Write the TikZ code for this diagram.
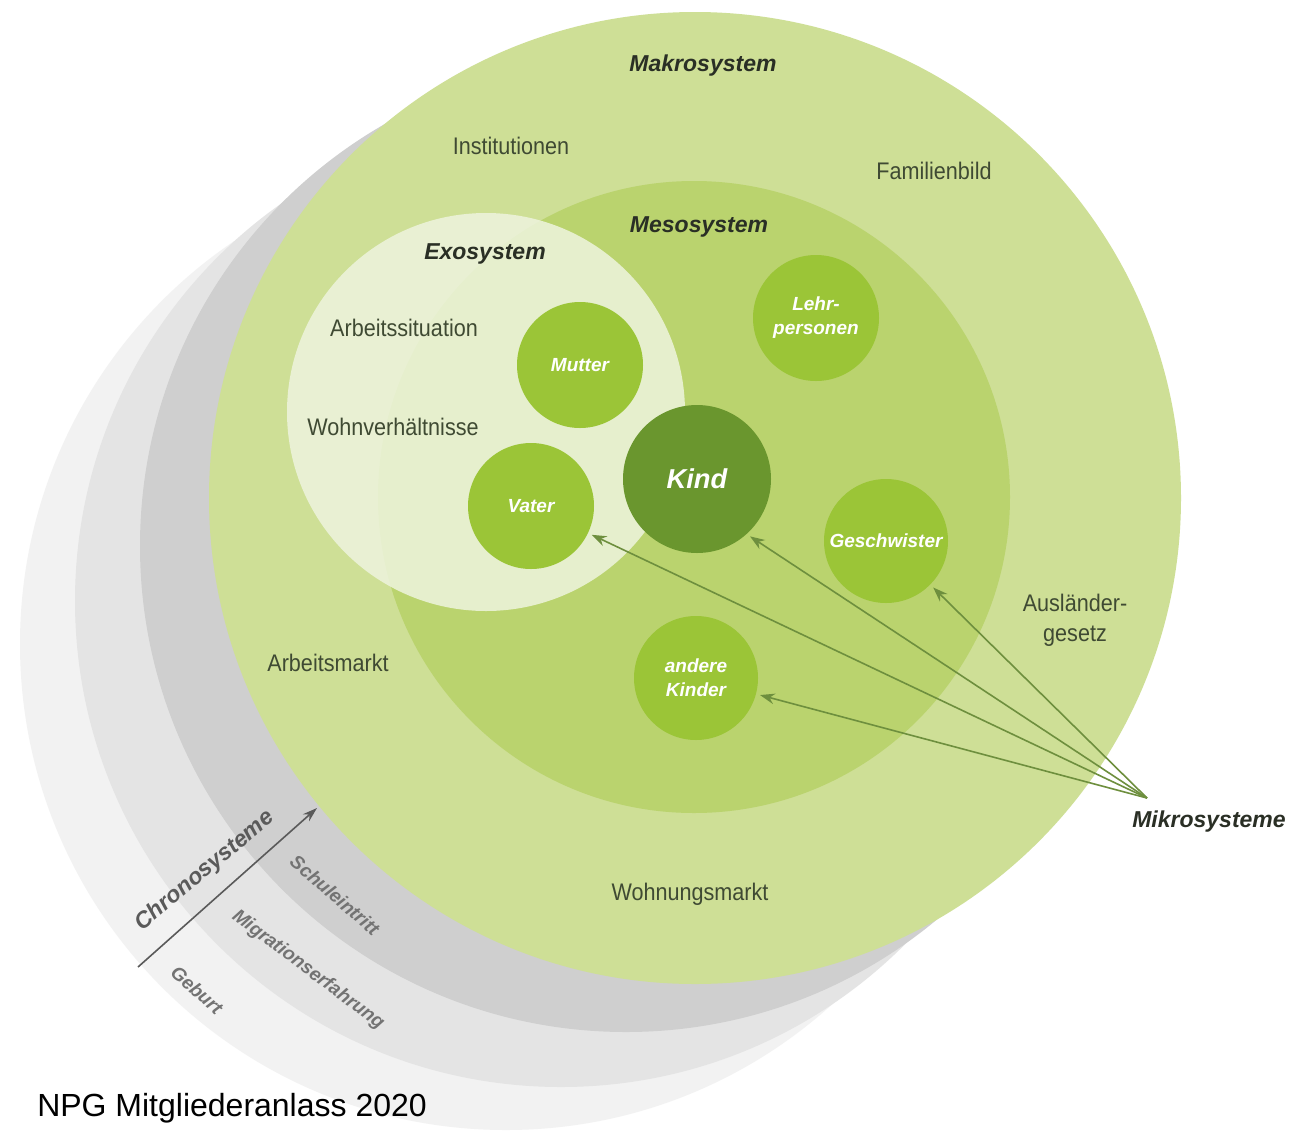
\documentclass[tikz,border=0pt]{standalone}
\usepackage{fontspec}
\setmainfont{Liberation Sans}
\newfontfamily\lab[FakeStretch=0.9]{Liberation Sans}
\usetikzlibrary{arrows.meta}
\definecolor{gA}{HTML}{F2F2F2}
\definecolor{gB}{HTML}{E4E4E4}
\definecolor{gC}{HTML}{CFCFCF}
\definecolor{macroc}{HTML}{CEDF96}
\definecolor{mesoc}{HTML}{BAD36E}
\definecolor{exoc}{HTML}{EEF4DE}
\definecolor{microc}{HTML}{9BC537}
\definecolor{kindc}{HTML}{6A962E}
\definecolor{arrowc}{HTML}{6E8F3E}
\definecolor{labc}{HTML}{3F4A33}
\definecolor{headc}{HTML}{2A2F25}
\definecolor{chronc}{HTML}{5A5A5A}
\tikzset{
 lbl/.style={font=\lab\fontsize{18}{22.5}\selectfont, text=labc, align=center, inner sep=0pt},
 head/.style={font=\bfseries\itshape\fontsize{17.25}{20}\selectfont, text=headc, inner sep=0pt},
 micro/.style={circle, fill=microc, minimum size=94.5pt, inner sep=0pt, text=white, align=center,
   font=\bfseries\itshape\fontsize{14.25}{18}\selectfont},
 arr/.style={draw=arrowc, line width=1.2pt, -{Stealth[length=11pt,width=8pt]}, shorten >=3pt},
 chron/.style={font=\bfseries\itshape\fontsize{14.25}{17}\selectfont, text=chronc!85, inner sep=0pt},
}
\begin{document}
\begin{tikzpicture}[x=0.75pt,y=-0.75pt]
\useasboundingbox (0,0) rectangle (1293,1136);
\fill[white] (0,0) rectangle (1293,1136);
% chronosystem rings
\fill[gA] (506,644) circle [radius=364.5pt];
\fill[gB] (561,601) circle [radius=364.5pt];
\fill[gC] (626,546) circle [radius=364.5pt];
% makro
\fill[macroc] (695,498) circle [radius=364.5pt];
% meso
\fill[mesoc] (694,497) circle [radius=237pt];
% exo
\fill[exoc, fill opacity=0.85] (486,412) circle [radius=149.25pt];
% micro systems
\node[micro] (mutter) at (580,365) {Mutter};
\node[micro] (lehr) at (816,318) {Lehr-\\personen};
\node[micro] (vater) at (531,506) {Vater};
\node[micro, minimum size=93pt] (gesch) at (886,541) {Geschwister};
\node[micro, minimum size=93pt] (andere) at (696,678) {andere\\Kinder};
\node[circle, fill=kindc, minimum size=111pt, inner sep=0pt, text=white,
  font=\bfseries\itshape\fontsize{20.5}{24}\selectfont] (kind) at (697,479) {Kind};
% labels
\node[head] (makro) at (703,66) {Makrosystem};
\node[head] (meso) at (699,227) {Mesosystem};
\node[head] (exo) at (485,254) {Exosystem};
\node[lbl] (inst) at (511,146) {Institutionen};
\node[lbl] (fam) at (934,171) {Familienbild};
\node[lbl] (arbsit) at (404,328) {Arbeitssituation};
\node[lbl] (wohnv) at (393,427) {Wohnverhältnisse};
\node[lbl] (arbm) at (328,663) {Arbeitsmarkt};
\node[lbl] (ausl) at (1075,620) {Ausländer-\\gesetz};
\node[lbl] (wohnm) at (690,894) {Wohnungsmarkt};
\node[head] (mikro) at (1209,822) {Mikrosysteme};
% arrows
\coordinate (mk) at (1147,798);
\draw[arr] (mk) -- (vater);
\draw[arr] (mk) -- (kind.-48);
\draw[arr] (mk) -- (gesch);
\draw[arr] (mk) -- (andere);
% chronosystem
\coordinate (chs) at (138,967);
\coordinate (che) at (317,808);
\draw[draw=chronc, line width=1.2pt, -{Stealth[length=11pt,width=7pt]}] (chs) -- (che);
\node[chron, text=chronc, font=\bfseries\itshape\fontsize{17.25}{20}\selectfont, rotate=40] (chrono) at (205,871) {Chronosysteme};
\node[chron, rotate=-41] (schul) at (335,895) {Schuleintritt};
\node[chron, rotate=-37] (migr) at (308,970) {Migrationserfahrung};
\node[chron, rotate=-42] (geb) at (197,990) {Geburt};
% footer
\node[anchor=west, inner sep=0pt, font=\fontsize{24}{28}\selectfont] (npg) at (37,1108) {NPG Mitgliederanlass 2020};
\end{tikzpicture}
\end{document}
